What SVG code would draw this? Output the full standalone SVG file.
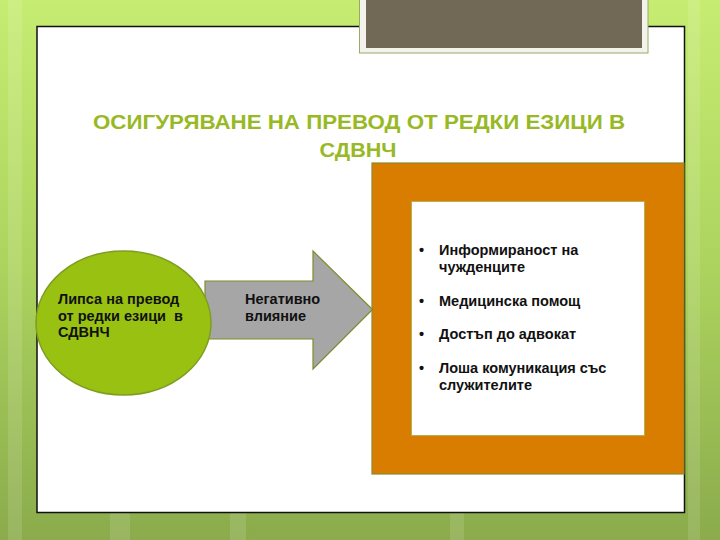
<svg xmlns="http://www.w3.org/2000/svg" width="720" height="540" viewBox="0 0 720 540">
<defs>
<linearGradient id="bg" x1="0" y1="0" x2="0" y2="1">
<stop offset="0" stop-color="#c6ec72"/>
<stop offset="0.5" stop-color="#acd35e"/>
<stop offset="1" stop-color="#8bab4c"/>
</linearGradient>
<style>
.t{font-family:"Liberation Sans","DejaVu Sans",sans-serif;font-weight:bold;font-size:14.5px;fill:#111}
.title{font-family:"Liberation Sans","DejaVu Sans",sans-serif;font-weight:bold;font-size:21px;fill:#98b925;text-anchor:middle}
.stripe{fill:#ffffff;opacity:0.12}
</style>
</defs>
<rect x="0" y="0" width="720" height="540" fill="url(#bg)"/>
<rect class="stripe" x="8" y="0" width="14" height="540"/>
<rect class="stripe" x="688" y="0" width="12" height="540"/>
<rect class="stripe" x="110" y="512" width="20" height="28"/>
<rect class="stripe" x="230" y="512" width="16" height="28"/>
<rect class="stripe" x="450" y="512" width="14" height="28"/>
<g id="panel">
<rect x="37" y="26.5" width="647.5" height="486" fill="#ffffff" stroke="#111" stroke-width="1.5"/>
</g>
<g id="topbox">
<rect x="359.5" y="-2" width="288.5" height="55" fill="#f3f3ec" stroke="#9aa86a" stroke-width="1"/>
<rect x="366" y="-2" width="276" height="50" fill="#716856"/>
</g>
<g id="title">
<text class="title" x="359" y="128.5" textLength="532" lengthAdjust="spacingAndGlyphs">ОСИГУРЯВАНЕ НА ПРЕВОД ОТ РЕДКИ ЕЗИЦИ В</text>
<text class="title" x="358" y="157" textLength="77" lengthAdjust="spacingAndGlyphs">СДВНЧ</text>
</g>
<g id="effects">
<rect x="372" y="163" width="312" height="311" fill="#d97d01" stroke="#8a8a2a" stroke-width="1.2"/>
<rect x="411.5" y="201.5" width="233" height="234" fill="#ffffff" stroke="#b8b050" stroke-width="1"/>
<text class="t" x="419" y="255">•</text>
<text class="t" x="439" y="255">Информираност на</text>
<text class="t" x="439" y="272">чужденците</text>
<text class="t" x="419" y="306">•</text>
<text class="t" x="439" y="306">Медицинска помощ</text>
<text class="t" x="419" y="339">•</text>
<text class="t" x="439" y="339">Достъп до адвокат</text>
<text class="t" x="419" y="373">•</text>
<text class="t" x="439" y="373">Лоша комуникация със</text>
<text class="t" x="439" y="390">служителите</text>
</g>
<g id="connectors">
<g id="arrow">
<polygon points="205,281 313,281 313,251 372.5,309.5 313,369 313,339 205,339" fill="#a6a6a6" stroke="#7d8c2c" stroke-width="1.2"/>
<text class="t" x="245" y="304">Негативно</text>
<text class="t" x="245" y="321">влияние</text>
</g>
</g>
<g id="cause">
<ellipse cx="123.5" cy="323" rx="87.5" ry="72" fill="#98c111" stroke="#7f9d22" stroke-width="1.5"/>
<text class="t" x="58" y="304">Липса на превод</text>
<text class="t" x="58" y="321" xml:space="preserve">от редки езици  в</text>
<text class="t" x="58" y="337">СДВНЧ</text>
</g>
</svg>
